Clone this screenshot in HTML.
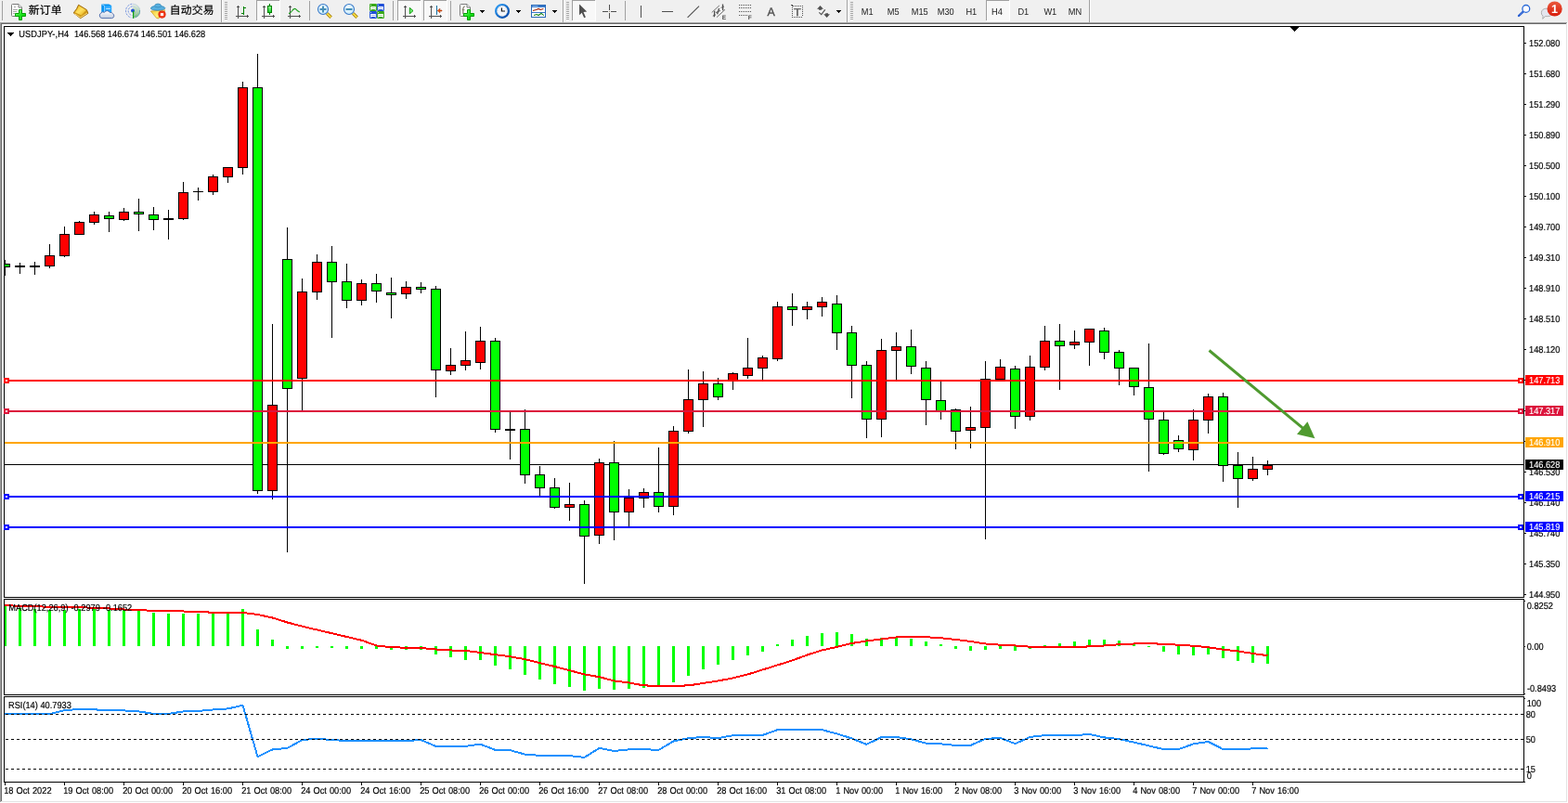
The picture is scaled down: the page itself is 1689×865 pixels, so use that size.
<!DOCTYPE html>
<html lang="zh"><head><meta charset="utf-8"><title>USDJPY-,H4</title>
<style>html,body{margin:0;padding:0;background:#fff;overflow:hidden}body{width:1689px;height:865px;position:relative}svg{position:absolute;left:0;top:0;display:block}text{font-family:"Liberation Sans","Noto Sans CJK SC",sans-serif;white-space:pre;text-rendering:geometricPrecision}.k{stroke:#000;stroke-width:.18px}.w{stroke:#fff;stroke-width:.12px;fill:#fff}.c{shape-rendering:crispEdges}</style>
</head><body>
<svg width="1689" height="865" viewBox="0 0 1689 865">
<rect x="0" y="0" width="1689" height="865" fill="#fff"/>
<g class="c">
<rect x="0" y="0" width="1689" height="24" fill="#f0f0f0"/>
<rect x="0" y="24" width="1689" height="1" fill="#a0a0a0"/>
<rect x="0" y="24" width="1" height="841" fill="#a0a0a0"/>
<rect x="1" y="25" width="1688" height="1" fill="#696969"/>
<rect x="1" y="25" width="1" height="839" fill="#696969"/>
<rect x="1688" y="24" width="1" height="841" fill="#fff"/>
<rect x="0" y="864" width="1689" height="1" fill="#fff"/>
<rect x="1687" y="25" width="1" height="839" fill="#e3e3e3"/>
<rect x="1" y="863" width="1687" height="1" fill="#e3e3e3"/>
</g>
<defs>
<linearGradient id="gp" x1="0" y1="0" x2="1" y2="1"><stop offset="0" stop-color="#8cff8c"/><stop offset="0.5" stop-color="#1ee61e"/><stop offset="1" stop-color="#00c800"/></linearGradient>
<linearGradient id="gold" x1="0" y1="0" x2="1" y2="1"><stop offset="0" stop-color="#f0c020"/><stop offset="0.5" stop-color="#ffe060"/><stop offset="1" stop-color="#e0a810"/></linearGradient>
<linearGradient id="badge" x1="0" y1="0" x2="0" y2="1"><stop offset="0" stop-color="#ea5a3c"/><stop offset="1" stop-color="#d81c0c"/></linearGradient>
<linearGradient id="blu" x1="0" y1="0" x2="1" y2="1"><stop offset="0" stop-color="#30a0f8"/><stop offset="1" stop-color="#0040a0"/></linearGradient>
<linearGradient id="cld" x1="0" y1="0" x2="0" y2="1"><stop offset="0" stop-color="#ffffff"/><stop offset="1" stop-color="#c0cce0"/></linearGradient>
<linearGradient id="grn" x1="0" y1="0" x2="0" y2="1"><stop offset="0" stop-color="#e0f0d8" stop-opacity="0.6"/><stop offset="1" stop-color="#38a838"/></linearGradient>
<linearGradient id="yel" x1="0" y1="0" x2="1" y2="1"><stop offset="0" stop-color="#f0c830"/><stop offset="0.6" stop-color="#fff080"/><stop offset="1" stop-color="#e8b020"/></linearGradient>
<linearGradient id="cnd" x1="0" y1="0" x2="0" y2="1"><stop offset="0" stop-color="#90f890"/><stop offset="1" stop-color="#20d030"/></linearGradient>
<radialGradient id="lens" cx="0.4" cy="0.35" r="0.7"><stop offset="0" stop-color="#f4fcff"/><stop offset="1" stop-color="#c4e8fc"/></radialGradient>
</defs>
<g class="c">
<rect x="2" y="1" width="1" height="21" fill="#a0a0a0"/>
<rect x="238" y="0" width="1" height="24" fill="#a0a0a0"/>
<rect x="239" y="0" width="1" height="24" fill="#fff"/>
<rect x="606" y="0" width="1" height="24" fill="#a0a0a0"/>
<rect x="607" y="0" width="1" height="24" fill="#fff"/>
<rect x="912" y="0" width="1" height="24" fill="#a0a0a0"/>
<rect x="913" y="0" width="1" height="24" fill="#fff"/>
<rect x="1173" y="0" width="1" height="24" fill="#a0a0a0"/>
<rect x="1174" y="0" width="1" height="24" fill="#fff"/>
<rect x="333" y="1" width="1" height="21" fill="#a0a0a0"/>
<rect x="423" y="1" width="1" height="21" fill="#a0a0a0"/>
<rect x="485" y="1" width="1" height="21" fill="#a0a0a0"/>
<rect x="673" y="1" width="1" height="21" fill="#a0a0a0"/>
<rect x="242" y="2" width="3" height="1" fill="#a0a0a0"/>
<rect x="242" y="3" width="3" height="1" fill="#fafafa"/>
<rect x="242" y="4" width="3" height="1" fill="#a0a0a0"/>
<rect x="242" y="5" width="3" height="1" fill="#fafafa"/>
<rect x="242" y="6" width="3" height="1" fill="#a0a0a0"/>
<rect x="242" y="7" width="3" height="1" fill="#fafafa"/>
<rect x="242" y="8" width="3" height="1" fill="#a0a0a0"/>
<rect x="242" y="9" width="3" height="1" fill="#fafafa"/>
<rect x="242" y="10" width="3" height="1" fill="#a0a0a0"/>
<rect x="242" y="11" width="3" height="1" fill="#fafafa"/>
<rect x="242" y="12" width="3" height="1" fill="#a0a0a0"/>
<rect x="242" y="13" width="3" height="1" fill="#fafafa"/>
<rect x="242" y="14" width="3" height="1" fill="#a0a0a0"/>
<rect x="242" y="15" width="3" height="1" fill="#fafafa"/>
<rect x="242" y="16" width="3" height="1" fill="#a0a0a0"/>
<rect x="242" y="17" width="3" height="1" fill="#fafafa"/>
<rect x="242" y="18" width="3" height="1" fill="#a0a0a0"/>
<rect x="242" y="19" width="3" height="1" fill="#fafafa"/>
<rect x="242" y="20" width="3" height="1" fill="#a0a0a0"/>
<rect x="242" y="21" width="3" height="1" fill="#fafafa"/>
<rect x="610" y="2" width="3" height="1" fill="#a0a0a0"/>
<rect x="610" y="3" width="3" height="1" fill="#fafafa"/>
<rect x="610" y="4" width="3" height="1" fill="#a0a0a0"/>
<rect x="610" y="5" width="3" height="1" fill="#fafafa"/>
<rect x="610" y="6" width="3" height="1" fill="#a0a0a0"/>
<rect x="610" y="7" width="3" height="1" fill="#fafafa"/>
<rect x="610" y="8" width="3" height="1" fill="#a0a0a0"/>
<rect x="610" y="9" width="3" height="1" fill="#fafafa"/>
<rect x="610" y="10" width="3" height="1" fill="#a0a0a0"/>
<rect x="610" y="11" width="3" height="1" fill="#fafafa"/>
<rect x="610" y="12" width="3" height="1" fill="#a0a0a0"/>
<rect x="610" y="13" width="3" height="1" fill="#fafafa"/>
<rect x="610" y="14" width="3" height="1" fill="#a0a0a0"/>
<rect x="610" y="15" width="3" height="1" fill="#fafafa"/>
<rect x="610" y="16" width="3" height="1" fill="#a0a0a0"/>
<rect x="610" y="17" width="3" height="1" fill="#fafafa"/>
<rect x="610" y="18" width="3" height="1" fill="#a0a0a0"/>
<rect x="610" y="19" width="3" height="1" fill="#fafafa"/>
<rect x="610" y="20" width="3" height="1" fill="#a0a0a0"/>
<rect x="610" y="21" width="3" height="1" fill="#fafafa"/>
<rect x="916" y="2" width="3" height="1" fill="#a0a0a0"/>
<rect x="916" y="3" width="3" height="1" fill="#fafafa"/>
<rect x="916" y="4" width="3" height="1" fill="#a0a0a0"/>
<rect x="916" y="5" width="3" height="1" fill="#fafafa"/>
<rect x="916" y="6" width="3" height="1" fill="#a0a0a0"/>
<rect x="916" y="7" width="3" height="1" fill="#fafafa"/>
<rect x="916" y="8" width="3" height="1" fill="#a0a0a0"/>
<rect x="916" y="9" width="3" height="1" fill="#fafafa"/>
<rect x="916" y="10" width="3" height="1" fill="#a0a0a0"/>
<rect x="916" y="11" width="3" height="1" fill="#fafafa"/>
<rect x="916" y="12" width="3" height="1" fill="#a0a0a0"/>
<rect x="916" y="13" width="3" height="1" fill="#fafafa"/>
<rect x="916" y="14" width="3" height="1" fill="#a0a0a0"/>
<rect x="916" y="15" width="3" height="1" fill="#fafafa"/>
<rect x="916" y="16" width="3" height="1" fill="#a0a0a0"/>
<rect x="916" y="17" width="3" height="1" fill="#fafafa"/>
<rect x="916" y="18" width="3" height="1" fill="#a0a0a0"/>
<rect x="916" y="19" width="3" height="1" fill="#fafafa"/>
<rect x="916" y="20" width="3" height="1" fill="#a0a0a0"/>
<rect x="916" y="21" width="3" height="1" fill="#fafafa"/>
<rect x="276" y="0" width="26" height="23" fill="#f8f8f8"/>
<rect x="276" y="0" width="25" height="1" fill="#a0a0a0"/>
<rect x="276" y="0" width="1" height="22" fill="#a0a0a0"/>
<rect x="301" y="1" width="1" height="22" fill="#fff"/>
<rect x="277" y="22" width="25" height="1" fill="#fff"/>
<rect x="428" y="0" width="26" height="23" fill="#f8f8f8"/>
<rect x="428" y="0" width="25" height="1" fill="#a0a0a0"/>
<rect x="428" y="0" width="1" height="22" fill="#a0a0a0"/>
<rect x="453" y="1" width="1" height="22" fill="#fff"/>
<rect x="429" y="22" width="25" height="1" fill="#fff"/>
<rect x="456" y="0" width="26" height="23" fill="#f8f8f8"/>
<rect x="456" y="0" width="25" height="1" fill="#a0a0a0"/>
<rect x="456" y="0" width="1" height="22" fill="#a0a0a0"/>
<rect x="481" y="1" width="1" height="22" fill="#fff"/>
<rect x="457" y="22" width="25" height="1" fill="#fff"/>
<rect x="616" y="0" width="26" height="23" fill="#f8f8f8"/>
<rect x="616" y="0" width="25" height="1" fill="#a0a0a0"/>
<rect x="616" y="0" width="1" height="22" fill="#a0a0a0"/>
<rect x="641" y="1" width="1" height="22" fill="#fff"/>
<rect x="617" y="22" width="25" height="1" fill="#fff"/>
<rect x="1062" y="0" width="26" height="23" fill="#f8f8f8"/>
<rect x="1062" y="0" width="25" height="1" fill="#a0a0a0"/>
<rect x="1062" y="0" width="1" height="22" fill="#a0a0a0"/>
<rect x="1087" y="1" width="1" height="22" fill="#fff"/>
<rect x="1063" y="22" width="25" height="1" fill="#fff"/>
</g>
<path d="M13.5 4.5 h6.5 l3.5 3.5 v8.5 q0 1 -1 1 h-9 q-1 0 -1 -1 v-11 q0 -1 1 -1 z" fill="#fff" stroke="#7a7a7a" stroke-width="1"/>
<path d="M20 4.5 v3.5 h3.5" fill="#f4f4f4" stroke="#7a7a7a" stroke-width="1"/>
<g class="c">
<rect x="15" y="7" width="2" height="1" fill="#a8a8a8"/>
<rect x="14" y="10" width="5" height="1" fill="#a8a8a8"/>
<rect x="14" y="12" width="4" height="1" fill="#a8a8a8"/>
<rect x="14" y="14" width="2" height="1" fill="#a8a8a8"/>
</g>
<path d="M20.5 10.5 h3 v4 h4 v3 h-4 v4 h-3 v-4 h-4 v-3 h4 z" fill="url(#gp)" stroke="#00a000" stroke-width="1"/>
<text x="30.8" y="15" font-size="11.8" letter-spacing="0.15" fill="#000" stroke="#000" stroke-width="0.2">新订单</text>
<path d="M84.6 5.2 Q83 9.6 79.2 13.9 L86.7 19.7 L94.9 14.3 L93.4 10.6 Z" fill="#d09818" stroke="#9c6808" stroke-width="0.9" stroke-linejoin="round"/>
<path d="M85 6.2 L92.8 10.9 L87.6 16.6 L80.8 13.2 Q83.6 10 85 6.2 Z" fill="url(#gold)"/>
<path d="M80.4 14.8 L86.8 18.8 L94 14" fill="none" stroke="#ffe488" stroke-width="0.9"/>
<path d="M109.3 4.6 h8 l2.8 1.4 v7.5 h-10.8 z" fill="#0090f0"/>
<path d="M112.4 6 h7.7 v7.5 h-7.7 z" fill="#28a8ff"/>
<path d="M109.3 4.6 l3.1 1.4 v7" fill="none" stroke="#c8e8ff" stroke-width="0.7"/>
<rect x="114.2" y="8.8" width="4.6" height="0.9" fill="#e8f6ff"/>
<path d="M109.8 19.6 A3 3 0 0 1 109 13.9 A2.5 2.5 0 0 1 112.4 13.4 A3.3 3.3 0 0 1 118.3 13.5 A2.5 2.5 0 0 1 121.5 14.8 A2.6 2.6 0 0 1 120.6 19.6 Z" fill="url(#cld)" stroke="#4868a8" stroke-width="0.9"/>
<path d="M143.2 11.6 L143.2 3.8 A7.9 7.9 0 0 1 143.2 19.6 Z" fill="url(#grn)" opacity="0.75"/>
<g fill="none">
<circle cx="143" cy="11.7" r="7.5" stroke="#b8c8e8" stroke-width="1" opacity="0.7"/>
<circle cx="143" cy="11.7" r="4.9" stroke="#b8c8e8" stroke-width="1" opacity="0.7"/>
<path d="M142 4.3 A7.5 7.5 0 0 0 139.6 18.4" stroke="#3c68d8" stroke-width="1" stroke-dasharray="1.6 1.8" opacity="0.6"/>
<path d="M142.4 6.9 A4.9 4.9 0 0 0 140.4 15.8" stroke="#3c68d8" stroke-width="1" stroke-dasharray="1.6 1.8" opacity="0.6"/>
<path d="M150.5 11 A7.5 7.5 0 0 1 146 18.6" stroke="#4890a0" stroke-width="1" opacity="0.7"/>
</g>
<circle cx="143" cy="11.6" r="2" fill="#2050d0"/><rect x="143" y="12" width="1.2" height="7.8" fill="#10a010"/>
<path d="M162.4 12 L177.6 10.8 L176 16 L170.4 19.9 L168.5 19.4 Z" fill="url(#yel)" stroke="#c89818" stroke-width="0.7"/>
<path d="M162.3 9 q0.5 -2 4 -2.4 q0.6 -2.6 3.8 -2.6 q3.2 0 3.8 2.6 q3.5 0.4 4.1 2.2 q-0.8 2 -7.9 2.4 q-7 -0.2 -7.8 -2.2 z" fill="#58b0e0" stroke="#2880b0" stroke-width="0.7"/>
<path d="M166.6 7.2 q3.5 1.6 7.2 -0.2" fill="none" stroke="#2880b0" stroke-width="0.6"/>
<circle cx="174.5" cy="15.6" r="4.1" fill="#e02408"/><circle cx="174.5" cy="15.6" r="3.4" fill="#f03818"/><rect x="172.9" y="14.1" width="3.2" height="3" fill="#fff"/>
<text x="182.8" y="15" font-size="11.8" letter-spacing="0.15" fill="#000" stroke="#000" stroke-width="0.2">自动交易</text>
<g class="c">
<rect x="256" y="6" width="1" height="14" fill="#505050"/>
<rect x="255" y="7" width="3" height="1" fill="#505050"/>
<rect x="254" y="17" width="14" height="1" fill="#505050"/>
<rect x="266" y="16" width="1" height="3" fill="#505050"/>
</g>
<g class="c">
<rect x="262" y="7" width="1" height="9" fill="#008000"/>
<rect x="263" y="8" width="2" height="1" fill="#008000"/>
<rect x="260" y="14" width="2" height="1" fill="#008000"/>
</g>
<g class="c">
<rect x="284" y="6" width="1" height="14" fill="#505050"/>
<rect x="283" y="7" width="3" height="1" fill="#505050"/>
<rect x="282" y="17" width="14" height="1" fill="#505050"/>
<rect x="294" y="16" width="1" height="3" fill="#505050"/>
</g>
<g class="c">
<rect x="290" y="4" width="1" height="12" fill="#008000"/>
<rect x="288" y="6" width="5" height="8" fill="#008000"/>
</g>
<rect x="289" y="7" width="3" height="6" fill="url(#cnd)"/>
<g class="c">
<rect x="312" y="6" width="1" height="14" fill="#505050"/>
<rect x="311" y="7" width="3" height="1" fill="#505050"/>
<rect x="310" y="17" width="14" height="1" fill="#505050"/>
<rect x="322" y="16" width="1" height="3" fill="#505050"/>
</g>
<path d="M311 14.6 Q313 14 315 11.2 Q317 8.6 318.6 9.8 Q320.6 12 322.8 13" fill="none" stroke="#20a020" stroke-width="1.1"/>
<path d="M352.2 14.4 L356.6 18.8" stroke="#a07808" stroke-width="3.4" stroke-linecap="butt"/>
<path d="M352.2 14.4 L356.4 18.6" stroke="#f8e040" stroke-width="1.8" stroke-linecap="butt"/>
<circle cx="348" cy="10" r="5.5" fill="url(#lens)" stroke="#3878c8" stroke-width="1.1"/>
<rect x="344.5" y="9" width="7" height="2" fill="#4890b8"/>
<rect x="347" y="6.5" width="2" height="7" fill="#4890b8"/>
<path d="M380.2 14.4 L384.6 18.8" stroke="#a07808" stroke-width="3.4" stroke-linecap="butt"/>
<path d="M380.2 14.4 L384.4 18.6" stroke="#f8e040" stroke-width="1.8" stroke-linecap="butt"/>
<circle cx="376" cy="10" r="5.5" fill="url(#lens)" stroke="#3878c8" stroke-width="1.1"/>
<rect x="372.5" y="9" width="7" height="2" fill="#4890b8"/>
<rect x="398.1" y="4.1" width="7.8" height="7.8" rx="0.8" fill="#38a818"/>
<rect x="399" y="5" width="0.9" height="0.9" fill="#e0f0e0"/>
<path d="M399.2 7 h5.6 v3.8 h-1 v-0.8 h-3.6 v0.8 h-1 z" fill="#fff"/>
<rect x="400.2" y="8" width="3.6" height="0.9" fill="#38a818" opacity="0.45"/>
<rect x="406.1" y="4.1" width="7.8" height="7.8" rx="0.8" fill="#2050d8"/>
<rect x="407" y="5" width="0.9" height="0.9" fill="#e0f0e0"/>
<path d="M407.2 7 h5.6 v3.8 h-1 v-0.8 h-3.6 v0.8 h-1 z" fill="#fff"/>
<rect x="408.2" y="8" width="3.6" height="0.9" fill="#2050d8" opacity="0.45"/>
<rect x="398.1" y="12.1" width="7.8" height="7.8" rx="0.8" fill="#2050d8"/>
<rect x="399" y="13" width="0.9" height="0.9" fill="#e0f0e0"/>
<path d="M399.2 15 h5.6 v3.8 h-1 v-0.8 h-3.6 v0.8 h-1 z" fill="#fff"/>
<rect x="400.2" y="16" width="3.6" height="0.9" fill="#2050d8" opacity="0.45"/>
<rect x="406.1" y="12.1" width="7.8" height="7.8" rx="0.8" fill="#38a818"/>
<rect x="407" y="13" width="0.9" height="0.9" fill="#e0f0e0"/>
<path d="M407.2 15 h5.6 v3.8 h-1 v-0.8 h-3.6 v0.8 h-1 z" fill="#fff"/>
<rect x="408.2" y="16" width="3.6" height="0.9" fill="#38a818" opacity="0.45"/>
<g class="c">
<rect x="436" y="6" width="1" height="14" fill="#505050"/>
<rect x="435" y="7" width="3" height="1" fill="#505050"/>
<rect x="434" y="17" width="14" height="1" fill="#505050"/>
<rect x="446" y="16" width="1" height="3" fill="#505050"/>
</g>
<path d="M441.3 8.3 L445 11.6 L441.3 14.9 Z" fill="#70f070" stroke="#009000" stroke-width="0.9" stroke-linejoin="round"/>
<g class="c">
<rect x="464" y="6" width="1" height="14" fill="#505050"/>
<rect x="463" y="7" width="3" height="1" fill="#505050"/>
<rect x="462" y="17" width="14" height="1" fill="#505050"/>
<rect x="474" y="16" width="1" height="3" fill="#505050"/>
</g>
<g class="c">
<rect x="470" y="6" width="1" height="10" fill="#1870a0"/>
</g>
<path d="M471.2 11.5 L474 9.2 L473.6 11 L476 11 V12 L473.6 12 L474 13.8 Z" fill="#f05808" stroke="#a02800" stroke-width="0.5"/>
<path d="M496.5 4.5 h6.5 l3.5 3.5 v8.5 q0 1 -1 1 h-9 q-1 0 -1 -1 v-11 q0 -1 1 -1 z" fill="#fff" stroke="#7a7a7a" stroke-width="1"/>
<path d="M503 4.5 v3.5 h3.5" fill="#f4f4f4" stroke="#7a7a7a" stroke-width="1"/>
<path d="M500.8 6.8 q-1.8 0.2 -1.9 2.2 v6" fill="none" stroke="#504830" stroke-width="0.9"/><path d="M497.5 10.6 h3" stroke="#807860" stroke-width="0.8"/>
<path d="M503.5 10.5 h3 v4 h4 v3 h-4 v4 h-3 v-4 h-4 v-3 h4 z" fill="url(#gp)" stroke="#00a000" stroke-width="1"/>
<g class="c">
<rect x="517" y="11" width="5" height="1" fill="#000"/>
<rect x="518" y="12" width="3" height="1" fill="#000"/>
<rect x="519" y="13" width="1" height="1" fill="#000"/>
</g>
<circle cx="541" cy="11.9" r="6.9" fill="#f4f6fa" stroke="url(#blu)" stroke-width="2.2"/>
<circle cx="541" cy="11.9" r="5.2" fill="none" stroke="#909090" stroke-width="0.7" stroke-dasharray="0.6 2.1"/>
<path d="M540.4 8.6 V12 H544" fill="none" stroke="#181818" stroke-width="1.2"/>
<g class="c">
<rect x="556" y="11" width="5" height="1" fill="#000"/>
<rect x="557" y="12" width="3" height="1" fill="#000"/>
<rect x="558" y="13" width="1" height="1" fill="#000"/>
</g>
<rect x="572.5" y="5.5" width="15" height="13" fill="#fff" stroke="#2868b8" stroke-width="1"/>
<rect x="573" y="6" width="14" height="2" fill="#3878c8"/><rect x="573.5" y="6.3" width="6" height="0.9" fill="#a8d0f8"/>
<rect x="573" y="13" width="14" height="1" fill="#3878c8"/>
<path d="M574 11.5 L577.6 10.5 L580.1 9.4 L582.2 10.5 L585.4 9.4" fill="none" stroke="#a02000" stroke-width="1.1"/>
<path d="M575 16.5 L578 15.5 L580.1 16.5 L583 14.4 L585.8 16.6" fill="none" stroke="#108010" stroke-width="1.1"/>
<g class="c">
<rect x="595" y="11" width="5" height="1" fill="#000"/>
<rect x="596" y="12" width="3" height="1" fill="#000"/>
<rect x="597" y="13" width="1" height="1" fill="#000"/>
</g>
<path d="M624 4.6 V16.2 L626.7 13.7 L629.2 19.3 L630.9 18.4 L628.5 13 L632.2 12.5 Z" fill="#505050"/>
<g class="c">
<rect x="656" y="5" width="1" height="6" fill="#505050"/>
<rect x="656" y="14" width="1" height="6" fill="#505050"/>
<rect x="649" y="12" width="6" height="1" fill="#505050"/>
<rect x="658" y="12" width="6" height="1" fill="#505050"/>
<rect x="656" y="12" width="1" height="1" fill="#908870"/>
<rect x="690" y="6" width="1" height="13" fill="#505050"/>
<rect x="713" y="12" width="12" height="1" fill="#505050"/>
</g>
<path d="M740.6 18.9 L753 6.7" stroke="#505050" stroke-width="1.1"/>
<g stroke="#505050" fill="none"><path d="M766.7 13.5 L774.9 5.9 M772.1 18.6 L781 10.3" stroke-width="0.8"/><path d="M769.4 18.2 L769.7 11.8 M772.6 15.2 L774.6 9 M778.7 11.2 L778.5 4.4" stroke-width="1.3"/><path d="M767.8 17.2 L771 15.8 M771 13.6 L776 11.4 M776.6 8.4 L780 7" stroke-width="0.9"/></g>
<text x="777.8" y="20.8" font-size="6.6" font-weight="bold" fill="#505050">E</text>
<g class="c">
<rect x="796" y="5" width="1" height="1" fill="#505050"/>
<rect x="798" y="5" width="1" height="1" fill="#505050"/>
<rect x="800" y="5" width="1" height="1" fill="#505050"/>
<rect x="802" y="5" width="1" height="1" fill="#505050"/>
<rect x="804" y="5" width="1" height="1" fill="#505050"/>
<rect x="806" y="5" width="1" height="1" fill="#505050"/>
<rect x="808" y="5" width="1" height="1" fill="#505050"/>
<rect x="796" y="8" width="1" height="1" fill="#505050"/>
<rect x="798" y="8" width="1" height="1" fill="#505050"/>
<rect x="800" y="8" width="1" height="1" fill="#505050"/>
<rect x="802" y="8" width="1" height="1" fill="#505050"/>
<rect x="804" y="8" width="1" height="1" fill="#505050"/>
<rect x="806" y="8" width="1" height="1" fill="#505050"/>
<rect x="808" y="8" width="1" height="1" fill="#505050"/>
<rect x="796" y="12" width="1" height="1" fill="#505050"/>
<rect x="798" y="12" width="1" height="1" fill="#505050"/>
<rect x="800" y="12" width="1" height="1" fill="#505050"/>
<rect x="802" y="12" width="1" height="1" fill="#505050"/>
<rect x="804" y="12" width="1" height="1" fill="#505050"/>
<rect x="806" y="12" width="1" height="1" fill="#505050"/>
<rect x="808" y="12" width="1" height="1" fill="#505050"/>
<rect x="796" y="16" width="1" height="1" fill="#505050"/>
<rect x="798" y="16" width="1" height="1" fill="#505050"/>
<rect x="800" y="16" width="1" height="1" fill="#505050"/>
<rect x="802" y="16" width="1" height="1" fill="#505050"/>
<rect x="804" y="16" width="1" height="1" fill="#505050"/>
</g>
<text x="805.7" y="20.8" font-size="6.6" font-weight="bold" fill="#505050">F</text>
<text x="826.5" y="16.9" font-size="12.4" fill="#505050" stroke="#505050" stroke-width="0.35">A</text>
<g class="c">
<rect x="856" y="6" width="1" height="1" fill="#505050"/>
<rect x="858" y="6" width="1" height="1" fill="#505050"/>
<rect x="860" y="6" width="1" height="1" fill="#505050"/>
<rect x="862" y="6" width="1" height="1" fill="#505050"/>
<rect x="864" y="6" width="1" height="1" fill="#505050"/>
<rect x="853" y="18" width="1" height="1" fill="#505050"/>
<rect x="855" y="18" width="1" height="1" fill="#505050"/>
<rect x="857" y="18" width="1" height="1" fill="#505050"/>
<rect x="859" y="18" width="1" height="1" fill="#505050"/>
<rect x="861" y="18" width="1" height="1" fill="#505050"/>
<rect x="863" y="18" width="1" height="1" fill="#505050"/>
<rect x="853" y="8" width="1" height="1" fill="#505050"/>
<rect x="853" y="10" width="1" height="1" fill="#505050"/>
<rect x="853" y="12" width="1" height="1" fill="#505050"/>
<rect x="853" y="14" width="1" height="1" fill="#505050"/>
<rect x="853" y="16" width="1" height="1" fill="#505050"/>
<rect x="864" y="6" width="1" height="1" fill="#505050"/>
<rect x="864" y="8" width="1" height="1" fill="#505050"/>
<rect x="864" y="10" width="1" height="1" fill="#505050"/>
<rect x="864" y="12" width="1" height="1" fill="#505050"/>
<rect x="864" y="14" width="1" height="1" fill="#505050"/>
<rect x="864" y="16" width="1" height="1" fill="#505050"/>
<rect x="852" y="5" width="2" height="1" fill="#505050"/>
<rect x="853" y="6" width="2" height="1" fill="#505050"/>
</g>
<text transform="translate(854.9 17) scale(1.12 1)" font-size="11.4" fill="#505050" stroke="#505050" stroke-width="0.3">T</text>
<path d="M880 9.8 L883.5 6 L887 9.8 H885 V10.8 H882 V9.8 Z" fill="#505050"/><path d="M887.2 15.2 H889.2 V14.2 H892 V15.2 H894 L890.6 18.9 Z" fill="#505050"/><path d="M882.3 13.4 L884.7 15.6 L888.8 10.4" fill="none" stroke="#505050" stroke-width="1.1"/>
<g class="c">
<rect x="901" y="11" width="5" height="1" fill="#000"/>
<rect x="902" y="12" width="3" height="1" fill="#000"/>
<rect x="903" y="13" width="1" height="1" fill="#000"/>
</g>
<text transform="translate(927.7 16) scale(0.907 1)" font-size="10.2" fill="#222">M1</text>
<text transform="translate(955.7 16) scale(0.907 1)" font-size="10.2" fill="#222">M5</text>
<text transform="translate(981.7 16) scale(0.907 1)" font-size="10.2" fill="#222">M15</text>
<text transform="translate(1009.7 16) scale(0.907 1)" font-size="10.2" fill="#222">M30</text>
<text transform="translate(1040.4 16) scale(0.907 1)" font-size="10.2" fill="#222">H1</text>
<text transform="translate(1068 16) scale(0.907 1)" font-size="10.2" fill="#222">H4</text>
<text transform="translate(1096.4 16) scale(0.907 1)" font-size="10.2" fill="#222">D1</text>
<text transform="translate(1124.4 16) scale(0.907 1)" font-size="10.2" fill="#222">W1</text>
<text transform="translate(1150.7 16) scale(0.907 1)" font-size="10.2" fill="#222">MN</text>
<path d="M1640.9 12.4 L1636 17" stroke="#2058d0" stroke-width="2.3" stroke-linecap="round"/>
<path d="M1640 13.2 L1637 16" stroke="#a8c0f0" stroke-width="0.7" stroke-dasharray="0.8 0.8"/>
<circle cx="1643.8" cy="9.4" r="3.9" fill="#fcfcff" stroke="#2868d8" stroke-width="1.3"/>
<path d="M1660.4 13.4 a5 4.2 0 0 1 5 -4.2 h2 a5 4.2 0 0 1 0 8.4 h-3 l-2.6 2.8 l0.2 -3.2 a5 4.2 0 0 1 -1.6 -3.8 z" fill="#e4e6ee" stroke="#a0a0a0" stroke-width="0.8"/>
<circle cx="1674.6" cy="9.5" r="8.1" fill="url(#badge)"/>
<text x="1674.5" y="14.2" font-size="12.6" font-weight="bold" text-anchor="middle" fill="#fff">1</text>
<g class="c">
<rect x="4" y="28" width="1638" height="1" fill="#000"/>
<rect x="4" y="28" width="1" height="815" fill="#000"/>
<rect x="1641" y="28" width="1" height="815" fill="#000"/>
<rect x="4" y="643" width="1638" height="1" fill="#000"/>
<rect x="4" y="645" width="1638" height="1" fill="#000"/>
<rect x="4" y="748" width="1638" height="1" fill="#000"/>
<rect x="4" y="750" width="1638" height="1" fill="#000"/>
<rect x="4" y="842" width="1638" height="1" fill="#000"/>
<rect x="4" y="644" width="1638" height="1" fill="#fff"/>
<rect x="4" y="749" width="1638" height="1" fill="#fff"/>
<rect x="5" y="500" width="1636" height="1" fill="#000"/>
</g>
<g class="c" stroke="#000" stroke-width="1">
<rect x="5" y="280" width="1" height="17" fill="#000" stroke="none"/>
<rect x="5" y="284" width="6" height="4" fill="#000" stroke="none"/>
<rect x="5" y="285" width="5" height="2" fill="#0f0" stroke="none"/>
<rect x="21" y="283" width="1" height="12" fill="#000" stroke="none"/>
<rect x="16" y="286" width="11" height="2" fill="#000" stroke="none"/>
<rect x="37" y="282" width="1" height="14" fill="#000" stroke="none"/>
<rect x="32" y="286" width="11" height="2" fill="#000" stroke="none"/>
<rect x="53" y="263" width="1" height="26" fill="#000" stroke="none"/>
<rect x="48" y="275" width="11" height="12" fill="#000" stroke="none"/>
<rect x="49" y="276" width="9" height="10" fill="#f00" stroke="none"/>
<rect x="69" y="244" width="1" height="33" fill="#000" stroke="none"/>
<rect x="64" y="252" width="11" height="24" fill="#000" stroke="none"/>
<rect x="65" y="253" width="9" height="22" fill="#f00" stroke="none"/>
<rect x="85" y="238" width="1" height="15" fill="#000" stroke="none"/>
<rect x="80" y="239" width="11" height="14" fill="#000" stroke="none"/>
<rect x="81" y="240" width="9" height="12" fill="#f00" stroke="none"/>
<rect x="101" y="228" width="1" height="14" fill="#000" stroke="none"/>
<rect x="96" y="231" width="11" height="9" fill="#000" stroke="none"/>
<rect x="97" y="232" width="9" height="7" fill="#f00" stroke="none"/>
<rect x="117" y="228" width="1" height="22" fill="#000" stroke="none"/>
<rect x="112" y="232" width="11" height="4" fill="#000" stroke="none"/>
<rect x="113" y="233" width="9" height="2" fill="#0f0" stroke="none"/>
<rect x="133" y="224" width="1" height="14" fill="#000" stroke="none"/>
<rect x="128" y="228" width="11" height="9" fill="#000" stroke="none"/>
<rect x="129" y="229" width="9" height="7" fill="#f00" stroke="none"/>
<rect x="149" y="214" width="1" height="35" fill="#000" stroke="none"/>
<rect x="144" y="228" width="11" height="3" fill="#000" stroke="none"/>
<rect x="145" y="229" width="9" height="1" fill="#0f0" stroke="none"/>
<rect x="165" y="223" width="1" height="25" fill="#000" stroke="none"/>
<rect x="160" y="231" width="11" height="6" fill="#000" stroke="none"/>
<rect x="161" y="232" width="9" height="4" fill="#0f0" stroke="none"/>
<rect x="181" y="226" width="1" height="32" fill="#000" stroke="none"/>
<rect x="176" y="235" width="11" height="2" fill="#000" stroke="none"/>
<rect x="197" y="196" width="1" height="41" fill="#000" stroke="none"/>
<rect x="192" y="207" width="11" height="29" fill="#000" stroke="none"/>
<rect x="193" y="208" width="9" height="27" fill="#f00" stroke="none"/>
<rect x="213" y="202" width="1" height="14" fill="#000" stroke="none"/>
<rect x="208" y="206" width="11" height="1" fill="#000" stroke="none"/>
<rect x="229" y="188" width="1" height="22" fill="#000" stroke="none"/>
<rect x="224" y="190" width="11" height="17" fill="#000" stroke="none"/>
<rect x="225" y="191" width="9" height="15" fill="#f00" stroke="none"/>
<rect x="245" y="180" width="1" height="17" fill="#000" stroke="none"/>
<rect x="240" y="180" width="11" height="11" fill="#000" stroke="none"/>
<rect x="241" y="181" width="9" height="9" fill="#f00" stroke="none"/>
<rect x="261" y="88" width="1" height="100" fill="#000" stroke="none"/>
<rect x="256" y="94" width="11" height="87" fill="#000" stroke="none"/>
<rect x="257" y="95" width="9" height="85" fill="#f00" stroke="none"/>
<rect x="277" y="58" width="1" height="474" fill="#000" stroke="none"/>
<rect x="272" y="94" width="11" height="435" fill="#000" stroke="none"/>
<rect x="273" y="95" width="9" height="433" fill="#0f0" stroke="none"/>
<rect x="293" y="349" width="1" height="189" fill="#000" stroke="none"/>
<rect x="288" y="436" width="11" height="93" fill="#000" stroke="none"/>
<rect x="289" y="437" width="9" height="91" fill="#f00" stroke="none"/>
<rect x="309" y="245" width="1" height="350" fill="#000" stroke="none"/>
<rect x="304" y="279" width="11" height="140" fill="#000" stroke="none"/>
<rect x="305" y="280" width="9" height="138" fill="#0f0" stroke="none"/>
<rect x="325" y="300" width="1" height="142" fill="#000" stroke="none"/>
<rect x="320" y="314" width="11" height="94" fill="#000" stroke="none"/>
<rect x="321" y="315" width="9" height="92" fill="#f00" stroke="none"/>
<rect x="341" y="274" width="1" height="49" fill="#000" stroke="none"/>
<rect x="336" y="282" width="11" height="33" fill="#000" stroke="none"/>
<rect x="337" y="283" width="9" height="31" fill="#f00" stroke="none"/>
<rect x="357" y="265" width="1" height="99" fill="#000" stroke="none"/>
<rect x="352" y="282" width="11" height="22" fill="#000" stroke="none"/>
<rect x="353" y="283" width="9" height="20" fill="#0f0" stroke="none"/>
<rect x="373" y="284" width="1" height="48" fill="#000" stroke="none"/>
<rect x="368" y="303" width="11" height="21" fill="#000" stroke="none"/>
<rect x="369" y="304" width="9" height="19" fill="#0f0" stroke="none"/>
<rect x="389" y="301" width="1" height="28" fill="#000" stroke="none"/>
<rect x="384" y="305" width="11" height="19" fill="#000" stroke="none"/>
<rect x="385" y="306" width="9" height="17" fill="#f00" stroke="none"/>
<rect x="405" y="295" width="1" height="31" fill="#000" stroke="none"/>
<rect x="400" y="305" width="11" height="9" fill="#000" stroke="none"/>
<rect x="401" y="306" width="9" height="7" fill="#0f0" stroke="none"/>
<rect x="421" y="299" width="1" height="44" fill="#000" stroke="none"/>
<rect x="416" y="315" width="11" height="3" fill="#000" stroke="none"/>
<rect x="417" y="316" width="9" height="1" fill="#0f0" stroke="none"/>
<rect x="437" y="303" width="1" height="19" fill="#000" stroke="none"/>
<rect x="432" y="309" width="11" height="8" fill="#000" stroke="none"/>
<rect x="433" y="310" width="9" height="6" fill="#f00" stroke="none"/>
<rect x="453" y="304" width="1" height="12" fill="#000" stroke="none"/>
<rect x="448" y="309" width="11" height="3" fill="#000" stroke="none"/>
<rect x="449" y="310" width="9" height="1" fill="#0f0" stroke="none"/>
<rect x="469" y="308" width="1" height="120" fill="#000" stroke="none"/>
<rect x="464" y="311" width="11" height="88" fill="#000" stroke="none"/>
<rect x="465" y="312" width="9" height="86" fill="#0f0" stroke="none"/>
<rect x="485" y="375" width="1" height="29" fill="#000" stroke="none"/>
<rect x="480" y="393" width="11" height="7" fill="#000" stroke="none"/>
<rect x="481" y="394" width="9" height="5" fill="#f00" stroke="none"/>
<rect x="501" y="357" width="1" height="42" fill="#000" stroke="none"/>
<rect x="496" y="388" width="11" height="6" fill="#000" stroke="none"/>
<rect x="497" y="389" width="9" height="4" fill="#f00" stroke="none"/>
<rect x="517" y="352" width="1" height="46" fill="#000" stroke="none"/>
<rect x="512" y="367" width="11" height="24" fill="#000" stroke="none"/>
<rect x="513" y="368" width="9" height="22" fill="#f00" stroke="none"/>
<rect x="533" y="364" width="1" height="102" fill="#000" stroke="none"/>
<rect x="528" y="367" width="11" height="96" fill="#000" stroke="none"/>
<rect x="529" y="368" width="9" height="94" fill="#0f0" stroke="none"/>
<rect x="549" y="444" width="1" height="51" fill="#000" stroke="none"/>
<rect x="544" y="462" width="11" height="2" fill="#000" stroke="none"/>
<rect x="565" y="441" width="1" height="80" fill="#000" stroke="none"/>
<rect x="560" y="462" width="11" height="50" fill="#000" stroke="none"/>
<rect x="561" y="463" width="9" height="48" fill="#0f0" stroke="none"/>
<rect x="581" y="502" width="1" height="32" fill="#000" stroke="none"/>
<rect x="576" y="511" width="11" height="15" fill="#000" stroke="none"/>
<rect x="577" y="512" width="9" height="13" fill="#0f0" stroke="none"/>
<rect x="597" y="515" width="1" height="33" fill="#000" stroke="none"/>
<rect x="592" y="525" width="11" height="22" fill="#000" stroke="none"/>
<rect x="593" y="526" width="9" height="20" fill="#0f0" stroke="none"/>
<rect x="613" y="520" width="1" height="41" fill="#000" stroke="none"/>
<rect x="608" y="543" width="11" height="4" fill="#000" stroke="none"/>
<rect x="609" y="544" width="9" height="2" fill="#f00" stroke="none"/>
<rect x="629" y="539" width="1" height="90" fill="#000" stroke="none"/>
<rect x="624" y="543" width="11" height="35" fill="#000" stroke="none"/>
<rect x="625" y="544" width="9" height="33" fill="#0f0" stroke="none"/>
<rect x="645" y="494" width="1" height="92" fill="#000" stroke="none"/>
<rect x="640" y="498" width="11" height="79" fill="#000" stroke="none"/>
<rect x="641" y="499" width="9" height="77" fill="#f00" stroke="none"/>
<rect x="661" y="475" width="1" height="107" fill="#000" stroke="none"/>
<rect x="656" y="498" width="11" height="54" fill="#000" stroke="none"/>
<rect x="657" y="499" width="9" height="52" fill="#0f0" stroke="none"/>
<rect x="677" y="527" width="1" height="40" fill="#000" stroke="none"/>
<rect x="672" y="536" width="11" height="16" fill="#000" stroke="none"/>
<rect x="673" y="537" width="9" height="14" fill="#f00" stroke="none"/>
<rect x="693" y="526" width="1" height="21" fill="#000" stroke="none"/>
<rect x="688" y="530" width="11" height="7" fill="#000" stroke="none"/>
<rect x="689" y="531" width="9" height="5" fill="#f00" stroke="none"/>
<rect x="709" y="482" width="1" height="70" fill="#000" stroke="none"/>
<rect x="704" y="530" width="11" height="16" fill="#000" stroke="none"/>
<rect x="705" y="531" width="9" height="14" fill="#0f0" stroke="none"/>
<rect x="725" y="459" width="1" height="96" fill="#000" stroke="none"/>
<rect x="720" y="464" width="11" height="82" fill="#000" stroke="none"/>
<rect x="721" y="465" width="9" height="80" fill="#f00" stroke="none"/>
<rect x="741" y="398" width="1" height="69" fill="#000" stroke="none"/>
<rect x="736" y="430" width="11" height="35" fill="#000" stroke="none"/>
<rect x="737" y="431" width="9" height="33" fill="#f00" stroke="none"/>
<rect x="757" y="400" width="1" height="60" fill="#000" stroke="none"/>
<rect x="752" y="413" width="11" height="18" fill="#000" stroke="none"/>
<rect x="753" y="414" width="9" height="16" fill="#f00" stroke="none"/>
<rect x="773" y="407" width="1" height="24" fill="#000" stroke="none"/>
<rect x="768" y="413" width="11" height="15" fill="#000" stroke="none"/>
<rect x="769" y="414" width="9" height="13" fill="#0f0" stroke="none"/>
<rect x="789" y="401" width="1" height="19" fill="#000" stroke="none"/>
<rect x="784" y="402" width="11" height="8" fill="#000" stroke="none"/>
<rect x="785" y="403" width="9" height="6" fill="#f00" stroke="none"/>
<rect x="805" y="364" width="1" height="44" fill="#000" stroke="none"/>
<rect x="800" y="396" width="11" height="9" fill="#000" stroke="none"/>
<rect x="801" y="397" width="9" height="7" fill="#f00" stroke="none"/>
<rect x="821" y="383" width="1" height="26" fill="#000" stroke="none"/>
<rect x="816" y="385" width="11" height="12" fill="#000" stroke="none"/>
<rect x="817" y="386" width="9" height="10" fill="#f00" stroke="none"/>
<rect x="837" y="325" width="1" height="64" fill="#000" stroke="none"/>
<rect x="832" y="330" width="11" height="57" fill="#000" stroke="none"/>
<rect x="833" y="331" width="9" height="55" fill="#f00" stroke="none"/>
<rect x="853" y="316" width="1" height="35" fill="#000" stroke="none"/>
<rect x="848" y="330" width="11" height="4" fill="#000" stroke="none"/>
<rect x="849" y="331" width="9" height="2" fill="#0f0" stroke="none"/>
<rect x="869" y="325" width="1" height="19" fill="#000" stroke="none"/>
<rect x="864" y="330" width="11" height="4" fill="#000" stroke="none"/>
<rect x="865" y="331" width="9" height="2" fill="#f00" stroke="none"/>
<rect x="885" y="320" width="1" height="21" fill="#000" stroke="none"/>
<rect x="880" y="325" width="11" height="6" fill="#000" stroke="none"/>
<rect x="881" y="326" width="9" height="4" fill="#f00" stroke="none"/>
<rect x="901" y="318" width="1" height="59" fill="#000" stroke="none"/>
<rect x="896" y="327" width="11" height="32" fill="#000" stroke="none"/>
<rect x="897" y="328" width="9" height="30" fill="#0f0" stroke="none"/>
<rect x="917" y="351" width="1" height="78" fill="#000" stroke="none"/>
<rect x="912" y="358" width="11" height="36" fill="#000" stroke="none"/>
<rect x="913" y="359" width="9" height="34" fill="#0f0" stroke="none"/>
<rect x="933" y="389" width="1" height="83" fill="#000" stroke="none"/>
<rect x="928" y="393" width="11" height="59" fill="#000" stroke="none"/>
<rect x="929" y="394" width="9" height="57" fill="#0f0" stroke="none"/>
<rect x="949" y="365" width="1" height="106" fill="#000" stroke="none"/>
<rect x="944" y="377" width="11" height="75" fill="#000" stroke="none"/>
<rect x="945" y="378" width="9" height="73" fill="#f00" stroke="none"/>
<rect x="965" y="358" width="1" height="51" fill="#000" stroke="none"/>
<rect x="960" y="373" width="11" height="5" fill="#000" stroke="none"/>
<rect x="961" y="374" width="9" height="3" fill="#f00" stroke="none"/>
<rect x="981" y="355" width="1" height="48" fill="#000" stroke="none"/>
<rect x="976" y="373" width="11" height="22" fill="#000" stroke="none"/>
<rect x="977" y="374" width="9" height="20" fill="#0f0" stroke="none"/>
<rect x="997" y="389" width="1" height="69" fill="#000" stroke="none"/>
<rect x="992" y="396" width="11" height="35" fill="#000" stroke="none"/>
<rect x="993" y="397" width="9" height="33" fill="#0f0" stroke="none"/>
<rect x="1013" y="411" width="1" height="41" fill="#000" stroke="none"/>
<rect x="1008" y="431" width="11" height="12" fill="#000" stroke="none"/>
<rect x="1009" y="432" width="9" height="10" fill="#0f0" stroke="none"/>
<rect x="1029" y="440" width="1" height="44" fill="#000" stroke="none"/>
<rect x="1024" y="441" width="11" height="24" fill="#000" stroke="none"/>
<rect x="1025" y="442" width="9" height="22" fill="#0f0" stroke="none"/>
<rect x="1045" y="438" width="1" height="45" fill="#000" stroke="none"/>
<rect x="1040" y="460" width="11" height="4" fill="#000" stroke="none"/>
<rect x="1041" y="461" width="9" height="2" fill="#f00" stroke="none"/>
<rect x="1061" y="389" width="1" height="192" fill="#000" stroke="none"/>
<rect x="1056" y="408" width="11" height="53" fill="#000" stroke="none"/>
<rect x="1057" y="409" width="9" height="51" fill="#f00" stroke="none"/>
<rect x="1077" y="387" width="1" height="22" fill="#000" stroke="none"/>
<rect x="1072" y="395" width="11" height="14" fill="#000" stroke="none"/>
<rect x="1073" y="396" width="9" height="12" fill="#f00" stroke="none"/>
<rect x="1093" y="394" width="1" height="68" fill="#000" stroke="none"/>
<rect x="1088" y="397" width="11" height="52" fill="#000" stroke="none"/>
<rect x="1089" y="398" width="9" height="50" fill="#0f0" stroke="none"/>
<rect x="1109" y="383" width="1" height="70" fill="#000" stroke="none"/>
<rect x="1104" y="395" width="11" height="54" fill="#000" stroke="none"/>
<rect x="1105" y="396" width="9" height="52" fill="#f00" stroke="none"/>
<rect x="1125" y="351" width="1" height="48" fill="#000" stroke="none"/>
<rect x="1120" y="367" width="11" height="29" fill="#000" stroke="none"/>
<rect x="1121" y="368" width="9" height="27" fill="#f00" stroke="none"/>
<rect x="1141" y="349" width="1" height="71" fill="#000" stroke="none"/>
<rect x="1136" y="367" width="11" height="6" fill="#000" stroke="none"/>
<rect x="1137" y="368" width="9" height="4" fill="#0f0" stroke="none"/>
<rect x="1157" y="356" width="1" height="20" fill="#000" stroke="none"/>
<rect x="1152" y="368" width="11" height="4" fill="#000" stroke="none"/>
<rect x="1153" y="369" width="9" height="2" fill="#f00" stroke="none"/>
<rect x="1173" y="354" width="1" height="40" fill="#000" stroke="none"/>
<rect x="1168" y="354" width="11" height="15" fill="#000" stroke="none"/>
<rect x="1169" y="355" width="9" height="13" fill="#f00" stroke="none"/>
<rect x="1189" y="353" width="1" height="34" fill="#000" stroke="none"/>
<rect x="1184" y="356" width="11" height="24" fill="#000" stroke="none"/>
<rect x="1185" y="357" width="9" height="22" fill="#0f0" stroke="none"/>
<rect x="1205" y="377" width="1" height="38" fill="#000" stroke="none"/>
<rect x="1200" y="379" width="11" height="18" fill="#000" stroke="none"/>
<rect x="1201" y="380" width="9" height="16" fill="#0f0" stroke="none"/>
<rect x="1221" y="396" width="1" height="30" fill="#000" stroke="none"/>
<rect x="1216" y="396" width="11" height="21" fill="#000" stroke="none"/>
<rect x="1217" y="397" width="9" height="19" fill="#0f0" stroke="none"/>
<rect x="1237" y="370" width="1" height="138" fill="#000" stroke="none"/>
<rect x="1232" y="417" width="11" height="35" fill="#000" stroke="none"/>
<rect x="1233" y="418" width="9" height="33" fill="#0f0" stroke="none"/>
<rect x="1253" y="444" width="1" height="46" fill="#000" stroke="none"/>
<rect x="1248" y="452" width="11" height="37" fill="#000" stroke="none"/>
<rect x="1249" y="453" width="9" height="35" fill="#0f0" stroke="none"/>
<rect x="1269" y="469" width="1" height="18" fill="#000" stroke="none"/>
<rect x="1264" y="474" width="11" height="10" fill="#000" stroke="none"/>
<rect x="1265" y="475" width="9" height="8" fill="#0f0" stroke="none"/>
<rect x="1285" y="441" width="1" height="55" fill="#000" stroke="none"/>
<rect x="1280" y="452" width="11" height="33" fill="#000" stroke="none"/>
<rect x="1281" y="453" width="9" height="31" fill="#f00" stroke="none"/>
<rect x="1301" y="424" width="1" height="43" fill="#000" stroke="none"/>
<rect x="1296" y="427" width="11" height="26" fill="#000" stroke="none"/>
<rect x="1297" y="428" width="9" height="24" fill="#f00" stroke="none"/>
<rect x="1317" y="423" width="1" height="96" fill="#000" stroke="none"/>
<rect x="1312" y="427" width="11" height="75" fill="#000" stroke="none"/>
<rect x="1313" y="428" width="9" height="73" fill="#0f0" stroke="none"/>
<rect x="1333" y="487" width="1" height="60" fill="#000" stroke="none"/>
<rect x="1328" y="501" width="11" height="15" fill="#000" stroke="none"/>
<rect x="1329" y="502" width="9" height="13" fill="#0f0" stroke="none"/>
<rect x="1349" y="492" width="1" height="26" fill="#000" stroke="none"/>
<rect x="1344" y="505" width="11" height="11" fill="#000" stroke="none"/>
<rect x="1345" y="506" width="9" height="9" fill="#f00" stroke="none"/>
<rect x="1365" y="496" width="1" height="16" fill="#000" stroke="none"/>
<rect x="1360" y="501" width="11" height="5" fill="#000" stroke="none"/>
<rect x="1361" y="502" width="9" height="3" fill="#f00" stroke="none"/>
</g>
<g class="c">
<rect x="5" y="409" width="1636" height="2" fill="#ff0000"/>
<rect x="4" y="407" width="6" height="6" fill="#ff0000"/>
<rect x="6" y="409" width="2" height="2" fill="#fff"/>
<rect x="1635" y="407" width="6" height="6" fill="#ff0000"/>
<rect x="1637" y="409" width="2" height="2" fill="#fff"/>
<rect x="5" y="442" width="1636" height="2" fill="#dc143c"/>
<rect x="4" y="440" width="6" height="6" fill="#dc143c"/>
<rect x="6" y="442" width="2" height="2" fill="#fff"/>
<rect x="1635" y="440" width="6" height="6" fill="#dc143c"/>
<rect x="1637" y="442" width="2" height="2" fill="#fff"/>
<rect x="5" y="476" width="1636" height="2" fill="#ffa500"/>
<rect x="5" y="534" width="1636" height="2" fill="#0000ff"/>
<rect x="4" y="532" width="6" height="6" fill="#0000ff"/>
<rect x="6" y="534" width="2" height="2" fill="#fff"/>
<rect x="1635" y="532" width="6" height="6" fill="#0000ff"/>
<rect x="1637" y="534" width="2" height="2" fill="#fff"/>
<rect x="5" y="567" width="1636" height="2" fill="#0000ff"/>
<rect x="4" y="565" width="6" height="6" fill="#0000ff"/>
<rect x="6" y="567" width="2" height="2" fill="#fff"/>
<rect x="1635" y="565" width="6" height="6" fill="#0000ff"/>
<rect x="1637" y="567" width="2" height="2" fill="#fff"/>
</g>
<g fill="#4f9a2f" stroke="none">
<path d="M1301.6 378.7 L1303.4 376.3 L1404.6 460.2 L1402.7 462.6 Z"/>
<path d="M1416.4 472.3 L1397 467.7 L1408.4 454.3 Z"/>
</g>
<g class="c">
<rect x="1390" y="29" width="9" height="1" fill="#000"/>
<rect x="1391" y="30" width="7" height="1" fill="#000"/>
<rect x="1392" y="31" width="5" height="1" fill="#000"/>
<rect x="1393" y="32" width="3" height="1" fill="#000"/>
<rect x="1394" y="33" width="1" height="1" fill="#000"/>
<rect x="8" y="35" width="7" height="1" fill="#000"/>
<rect x="9" y="36" width="5" height="1" fill="#000"/>
<rect x="10" y="37" width="3" height="1" fill="#000"/>
<rect x="11" y="38" width="1" height="1" fill="#000"/>
</g>
<text class="k" transform="translate(20.2 40) scale(0.907 1)" font-size="10.2" letter-spacing="0.1">USDJPY-,H4</text>
<text class="k" transform="translate(79.9 40) scale(0.907 1)" font-size="10.2">146.568 146.674 146.501 146.628</text>
<g class="c">
<rect x="1642" y="46" width="2" height="1" fill="#000"/>
<rect x="1642" y="79" width="2" height="1" fill="#000"/>
<rect x="1642" y="112" width="2" height="1" fill="#000"/>
<rect x="1642" y="145" width="2" height="1" fill="#000"/>
<rect x="1642" y="178" width="2" height="1" fill="#000"/>
<rect x="1642" y="211" width="2" height="1" fill="#000"/>
<rect x="1642" y="244" width="2" height="1" fill="#000"/>
<rect x="1642" y="277" width="2" height="1" fill="#000"/>
<rect x="1642" y="310" width="2" height="1" fill="#000"/>
<rect x="1642" y="343" width="2" height="1" fill="#000"/>
<rect x="1642" y="376" width="2" height="1" fill="#000"/>
<rect x="1642" y="409" width="2" height="1" fill="#000"/>
<rect x="1642" y="442" width="2" height="1" fill="#000"/>
<rect x="1642" y="475" width="2" height="1" fill="#000"/>
<rect x="1642" y="508" width="2" height="1" fill="#000"/>
<rect x="1642" y="541" width="2" height="1" fill="#000"/>
<rect x="1642" y="574" width="2" height="1" fill="#000"/>
<rect x="1642" y="607" width="2" height="1" fill="#000"/>
<rect x="1642" y="640" width="2" height="1" fill="#000"/>
</g>
<text class="k" transform="translate(1647 50) scale(0.907 1)" font-size="10.2">152.080</text>
<text class="k" transform="translate(1647 83) scale(0.907 1)" font-size="10.2">151.680</text>
<text class="k" transform="translate(1647 116) scale(0.907 1)" font-size="10.2">151.290</text>
<text class="k" transform="translate(1647 149) scale(0.907 1)" font-size="10.2">150.890</text>
<text class="k" transform="translate(1647 182) scale(0.907 1)" font-size="10.2">150.500</text>
<text class="k" transform="translate(1647 215) scale(0.907 1)" font-size="10.2">150.100</text>
<text class="k" transform="translate(1647 248) scale(0.907 1)" font-size="10.2">149.700</text>
<text class="k" transform="translate(1647 281) scale(0.907 1)" font-size="10.2">149.310</text>
<text class="k" transform="translate(1647 314) scale(0.907 1)" font-size="10.2">148.910</text>
<text class="k" transform="translate(1647 347) scale(0.907 1)" font-size="10.2">148.510</text>
<text class="k" transform="translate(1647 380) scale(0.907 1)" font-size="10.2">148.120</text>
<text class="k" transform="translate(1647 512) scale(0.907 1)" font-size="10.2">146.530</text>
<text class="k" transform="translate(1647 545) scale(0.907 1)" font-size="10.2">146.140</text>
<text class="k" transform="translate(1647 578) scale(0.907 1)" font-size="10.2">145.740</text>
<text class="k" transform="translate(1647 611) scale(0.907 1)" font-size="10.2">145.350</text>
<text class="k" transform="translate(1647 644) scale(0.907 1)" font-size="10.2">144.950</text>
<g class="c">
<rect x="1643" y="404" width="41" height="11" fill="#ff0000"/>
<rect x="1643" y="437" width="41" height="11" fill="#dc143c"/>
<rect x="1643" y="471" width="41" height="11" fill="#ffa500"/>
<rect x="1643" y="529" width="41" height="11" fill="#0000ff"/>
<rect x="1643" y="562" width="41" height="11" fill="#0000ff"/>
<rect x="1643" y="495" width="41" height="11" fill="#000000"/>
</g>
<text class="w" transform="translate(1647 413) scale(0.907 1)" font-size="10.2">147.713</text>
<text class="w" transform="translate(1647 446) scale(0.907 1)" font-size="10.2">147.317</text>
<text class="w" transform="translate(1647 480) scale(0.907 1)" font-size="10.2">146.910</text>
<text class="w" transform="translate(1647 538) scale(0.907 1)" font-size="10.2">146.215</text>
<text class="w" transform="translate(1647 571) scale(0.907 1)" font-size="10.2">145.819</text>
<text class="w" transform="translate(1647 504) scale(0.907 1)" font-size="10.2">146.628</text>
<g class="c">
<rect x="5" y="653" width="2" height="43" fill="#00ff00"/>
<rect x="20" y="655" width="3" height="41" fill="#00ff00"/>
<rect x="36" y="656" width="3" height="40" fill="#00ff00"/>
<rect x="52" y="657" width="3" height="39" fill="#00ff00"/>
<rect x="68" y="657" width="3" height="39" fill="#00ff00"/>
<rect x="84" y="656" width="3" height="40" fill="#00ff00"/>
<rect x="100" y="656" width="3" height="40" fill="#00ff00"/>
<rect x="116" y="657" width="3" height="39" fill="#00ff00"/>
<rect x="132" y="657" width="3" height="39" fill="#00ff00"/>
<rect x="148" y="658" width="3" height="38" fill="#00ff00"/>
<rect x="164" y="660" width="3" height="36" fill="#00ff00"/>
<rect x="180" y="661" width="3" height="35" fill="#00ff00"/>
<rect x="196" y="661" width="3" height="35" fill="#00ff00"/>
<rect x="212" y="661" width="3" height="35" fill="#00ff00"/>
<rect x="228" y="661" width="3" height="35" fill="#00ff00"/>
<rect x="244" y="660" width="3" height="36" fill="#00ff00"/>
<rect x="260" y="656" width="3" height="40" fill="#00ff00"/>
<rect x="276" y="678" width="3" height="18" fill="#00ff00"/>
<rect x="292" y="689" width="3" height="7" fill="#00ff00"/>
<rect x="308" y="696" width="3" height="3" fill="#00ff00"/>
<rect x="324" y="696" width="3" height="3" fill="#00ff00"/>
<rect x="340" y="696" width="3" height="2" fill="#00ff00"/>
<rect x="356" y="696" width="3" height="2" fill="#00ff00"/>
<rect x="372" y="696" width="3" height="3" fill="#00ff00"/>
<rect x="388" y="696" width="3" height="3" fill="#00ff00"/>
<rect x="404" y="696" width="3" height="3" fill="#00ff00"/>
<rect x="420" y="696" width="3" height="4" fill="#00ff00"/>
<rect x="436" y="696" width="3" height="4" fill="#00ff00"/>
<rect x="452" y="696" width="3" height="4" fill="#00ff00"/>
<rect x="468" y="696" width="3" height="9" fill="#00ff00"/>
<rect x="484" y="696" width="3" height="12" fill="#00ff00"/>
<rect x="500" y="696" width="3" height="15" fill="#00ff00"/>
<rect x="516" y="696" width="3" height="15" fill="#00ff00"/>
<rect x="532" y="696" width="3" height="21" fill="#00ff00"/>
<rect x="548" y="696" width="3" height="25" fill="#00ff00"/>
<rect x="564" y="696" width="3" height="31" fill="#00ff00"/>
<rect x="580" y="696" width="3" height="36" fill="#00ff00"/>
<rect x="596" y="696" width="3" height="41" fill="#00ff00"/>
<rect x="612" y="696" width="3" height="44" fill="#00ff00"/>
<rect x="628" y="696" width="3" height="48" fill="#00ff00"/>
<rect x="644" y="696" width="3" height="46" fill="#00ff00"/>
<rect x="660" y="696" width="3" height="47" fill="#00ff00"/>
<rect x="676" y="696" width="3" height="46" fill="#00ff00"/>
<rect x="692" y="696" width="3" height="45" fill="#00ff00"/>
<rect x="708" y="696" width="3" height="43" fill="#00ff00"/>
<rect x="724" y="696" width="3" height="39" fill="#00ff00"/>
<rect x="740" y="696" width="3" height="32" fill="#00ff00"/>
<rect x="756" y="696" width="3" height="25" fill="#00ff00"/>
<rect x="772" y="696" width="3" height="20" fill="#00ff00"/>
<rect x="788" y="696" width="3" height="15" fill="#00ff00"/>
<rect x="804" y="696" width="3" height="10" fill="#00ff00"/>
<rect x="820" y="696" width="3" height="6" fill="#00ff00"/>
<rect x="836" y="694" width="3" height="2" fill="#00ff00"/>
<rect x="852" y="689" width="3" height="7" fill="#00ff00"/>
<rect x="868" y="685" width="3" height="11" fill="#00ff00"/>
<rect x="884" y="682" width="3" height="14" fill="#00ff00"/>
<rect x="900" y="681" width="3" height="15" fill="#00ff00"/>
<rect x="916" y="683" width="3" height="13" fill="#00ff00"/>
<rect x="932" y="688" width="3" height="8" fill="#00ff00"/>
<rect x="948" y="687" width="3" height="9" fill="#00ff00"/>
<rect x="964" y="686" width="3" height="10" fill="#00ff00"/>
<rect x="980" y="688" width="3" height="8" fill="#00ff00"/>
<rect x="996" y="691" width="3" height="5" fill="#00ff00"/>
<rect x="1012" y="694" width="3" height="2" fill="#00ff00"/>
<rect x="1028" y="696" width="3" height="3" fill="#00ff00"/>
<rect x="1044" y="696" width="3" height="5" fill="#00ff00"/>
<rect x="1060" y="696" width="3" height="4" fill="#00ff00"/>
<rect x="1076" y="696" width="3" height="3" fill="#00ff00"/>
<rect x="1092" y="696" width="3" height="5" fill="#00ff00"/>
<rect x="1108" y="696" width="3" height="3" fill="#00ff00"/>
<rect x="1124" y="695" width="3" height="1" fill="#00ff00"/>
<rect x="1140" y="693" width="3" height="3" fill="#00ff00"/>
<rect x="1156" y="691" width="3" height="5" fill="#00ff00"/>
<rect x="1172" y="689" width="3" height="7" fill="#00ff00"/>
<rect x="1188" y="689" width="3" height="7" fill="#00ff00"/>
<rect x="1204" y="690" width="3" height="6" fill="#00ff00"/>
<rect x="1220" y="693" width="3" height="3" fill="#00ff00"/>
<rect x="1236" y="696" width="3" height="1" fill="#00ff00"/>
<rect x="1252" y="696" width="3" height="6" fill="#00ff00"/>
<rect x="1268" y="696" width="3" height="9" fill="#00ff00"/>
<rect x="1284" y="696" width="3" height="10" fill="#00ff00"/>
<rect x="1300" y="696" width="3" height="9" fill="#00ff00"/>
<rect x="1316" y="696" width="3" height="13" fill="#00ff00"/>
<rect x="1332" y="696" width="3" height="16" fill="#00ff00"/>
<rect x="1348" y="696" width="3" height="18" fill="#00ff00"/>
<rect x="1364" y="696" width="3" height="19" fill="#00ff00"/>
</g>
<polyline class="c" points="5,652.24 5.5,652.24 21.5,652.74 37.5,653.24 53.5,653.74 69.5,653.99 85.5,654.24 101.5,654.74 117.5,655.49 133.5,656.49 149.5,657.24 165.5,657.74 181.5,658.24 197.5,658.49 213.5,658.99 229.5,659.74 245.5,659.99 261.5,659.99 277.5,661.98 293.5,665.48 309.5,670.48 325.5,674.73 341.5,678.47 357.5,682.22 373.5,685.97 389.5,689.72 405.5,695.46 421.5,697.21 437.5,697.71 453.5,697.96 469.5,699.46 485.5,700.46 501.5,700.96 517.5,702.96 533.5,705.21 549.5,707.21 565.5,710.21 581.5,714.20 597.5,717.95 613.5,722.20 629.5,726.45 645.5,729.19 661.5,733.44 677.5,735.44 693.5,738.44 709.5,738.69 725.5,738.69 741.5,738.44 757.5,735.94 773.5,733.44 789.5,730.44 805.5,726.45 821.5,721.45 837.5,716.45 853.5,711.45 869.5,705.46 885.5,700.46 901.5,696.96 917.5,692.97 933.5,690.47 949.5,688.47 965.5,686.47 981.5,686.22 997.5,686.22 1013.5,687.22 1029.5,688.97 1045.5,690.97 1061.5,693.47 1077.5,694.71 1093.5,695.46 1109.5,696.71 1125.5,696.71 1141.5,696.71 1157.5,696.71 1173.5,696.46 1189.5,695.46 1205.5,694.22 1221.5,693.47 1237.5,693.22 1253.5,693.72 1269.5,694.71 1285.5,695.71 1301.5,697.21 1317.5,699.71 1333.5,701.46 1349.5,703.96 1365.5,706.21" fill="none" stroke="#ff0000" stroke-width="2" stroke-linejoin="round"/>
<text class="k" transform="translate(9.3 658) scale(0.907 1)" font-size="10.2" word-spacing="0.5">MACD(12,26,9) -0.2979 -0.1652</text>
<text class="k" transform="translate(1644.7 656) scale(0.907 1)" font-size="10.2">0.8252</text>
<text class="k" transform="translate(1644.7 700) scale(0.907 1)" font-size="10.2">0.00</text>
<text class="k" transform="translate(1644.9 745) scale(0.907 1)" font-size="10.2">-0.8493</text>
<g class="c">
<rect x="1642" y="647" width="1" height="1" fill="#000"/>
<rect x="1642" y="696" width="1" height="1" fill="#000"/>
<rect x="1642" y="747" width="1" height="1" fill="#000"/>
<rect x="1642" y="752" width="1" height="1" fill="#000"/>
<rect x="1642" y="842" width="1" height="1" fill="#000"/>
</g>
<polyline class="c" points="5,769.17 5.5,769.17 21.5,769.17 37.5,769.17 53.5,769.17 69.5,765.17 85.5,763.92 101.5,764.42 117.5,764.92 133.5,765.42 149.5,766.42 165.5,768.92 181.5,768.92 197.5,766.42 213.5,765.92 229.5,764.42 245.5,763.42 261.5,759.68 277.5,815.14 293.5,807.40 309.5,805.90 325.5,797.15 341.5,795.65 357.5,797.15 373.5,797.90 389.5,797.90 405.5,797.90 421.5,798.15 437.5,797.90 453.5,797.15 469.5,803.90 485.5,803.90 501.5,803.90 517.5,801.65 533.5,807.90 549.5,808.15 565.5,812.64 581.5,813.89 597.5,813.89 613.5,814.14 629.5,815.89 645.5,805.90 661.5,808.90 677.5,807.40 693.5,807.15 709.5,807.90 725.5,798.40 741.5,795.15 757.5,793.91 773.5,795.15 789.5,792.16 805.5,792.16 821.5,791.91 837.5,786.16 853.5,786.16 869.5,786.16 885.5,786.16 901.5,790.41 917.5,795.40 933.5,801.90 949.5,793.91 965.5,793.91 981.5,796.40 997.5,800.65 1013.5,801.40 1029.5,802.90 1045.5,802.90 1061.5,795.90 1077.5,794.90 1093.5,801.15 1109.5,793.91 1125.5,792.16 1141.5,792.16 1157.5,792.16 1173.5,790.91 1189.5,794.40 1205.5,796.15 1221.5,799.65 1237.5,803.40 1253.5,807.15 1269.5,807.15 1285.5,801.40 1301.5,798.90 1317.5,807.15 1333.5,807.15 1349.5,806.40 1365.5,805.90" fill="none" stroke="#1e90ff" stroke-width="2" stroke-linejoin="round"/>
<g class="c">
<line x1="6" y1="769.5" x2="1641" y2="769.5" stroke="#000" stroke-width="1" stroke-dasharray="3 3"/>
<line x1="6" y1="796.5" x2="1641" y2="796.5" stroke="#000" stroke-width="1" stroke-dasharray="3 3"/>
<line x1="6" y1="828.5" x2="1641" y2="828.5" stroke="#000" stroke-width="1" stroke-dasharray="3 3"/>
</g>
<text class="k" transform="translate(9 763) scale(0.907 1)" font-size="10.2">RSI(14) 40.7933</text>
<text class="k" transform="translate(1644.7 761) scale(0.907 1)" font-size="10.2">100</text>
<text class="k" transform="translate(1643.7 773) scale(0.907 1)" font-size="10.2">80</text>
<text class="k" transform="translate(1643.7 800) scale(0.907 1)" font-size="10.2">50</text>
<text class="k" transform="translate(1643.7 832) scale(0.907 1)" font-size="10.2">15</text>
<text class="k" transform="translate(1644.7 838.6) scale(0.907 1)" font-size="10.2">0</text>
<g class="c">
<rect x="5" y="843" width="1" height="3" fill="#000"/>
<rect x="69" y="843" width="1" height="3" fill="#000"/>
<rect x="133" y="843" width="1" height="3" fill="#000"/>
<rect x="197" y="843" width="1" height="3" fill="#000"/>
<rect x="261" y="843" width="1" height="3" fill="#000"/>
<rect x="325" y="843" width="1" height="3" fill="#000"/>
<rect x="389" y="843" width="1" height="3" fill="#000"/>
<rect x="453" y="843" width="1" height="3" fill="#000"/>
<rect x="517" y="843" width="1" height="3" fill="#000"/>
<rect x="581" y="843" width="1" height="3" fill="#000"/>
<rect x="645" y="843" width="1" height="3" fill="#000"/>
<rect x="709" y="843" width="1" height="3" fill="#000"/>
<rect x="773" y="843" width="1" height="3" fill="#000"/>
<rect x="837" y="843" width="1" height="3" fill="#000"/>
<rect x="901" y="843" width="1" height="3" fill="#000"/>
<rect x="965" y="843" width="1" height="3" fill="#000"/>
<rect x="1029" y="843" width="1" height="3" fill="#000"/>
<rect x="1093" y="843" width="1" height="3" fill="#000"/>
<rect x="1157" y="843" width="1" height="3" fill="#000"/>
<rect x="1221" y="843" width="1" height="3" fill="#000"/>
<rect x="1285" y="843" width="1" height="3" fill="#000"/>
<rect x="1349" y="843" width="1" height="3" fill="#000"/>
</g>
<text class="k" transform="translate(4.2 855) scale(0.907 1)" font-size="10.2" word-spacing="0.55">18 Oct 2022</text>
<text class="k" transform="translate(68.2 855) scale(0.907 1)" font-size="10.2" word-spacing="0.55">19 Oct 08:00</text>
<text class="k" transform="translate(132.2 855) scale(0.907 1)" font-size="10.2" word-spacing="0.55">20 Oct 00:00</text>
<text class="k" transform="translate(196.2 855) scale(0.907 1)" font-size="10.2" word-spacing="0.55">20 Oct 16:00</text>
<text class="k" transform="translate(260.2 855) scale(0.907 1)" font-size="10.2" word-spacing="0.55">21 Oct 08:00</text>
<text class="k" transform="translate(324.2 855) scale(0.907 1)" font-size="10.2" word-spacing="0.55">24 Oct 00:00</text>
<text class="k" transform="translate(388.2 855) scale(0.907 1)" font-size="10.2" word-spacing="0.55">24 Oct 16:00</text>
<text class="k" transform="translate(452.2 855) scale(0.907 1)" font-size="10.2" word-spacing="0.55">25 Oct 08:00</text>
<text class="k" transform="translate(516.2 855) scale(0.907 1)" font-size="10.2" word-spacing="0.55">26 Oct 00:00</text>
<text class="k" transform="translate(580.2 855) scale(0.907 1)" font-size="10.2" word-spacing="0.55">26 Oct 16:00</text>
<text class="k" transform="translate(644.2 855) scale(0.907 1)" font-size="10.2" word-spacing="0.55">27 Oct 08:00</text>
<text class="k" transform="translate(708.2 855) scale(0.907 1)" font-size="10.2" word-spacing="0.55">28 Oct 00:00</text>
<text class="k" transform="translate(772.2 855) scale(0.907 1)" font-size="10.2" word-spacing="0.55">28 Oct 16:00</text>
<text class="k" transform="translate(836.2 855) scale(0.907 1)" font-size="10.2" word-spacing="0.55">31 Oct 08:00</text>
<text class="k" transform="translate(900.2 855) scale(0.907 1)" font-size="10.2" word-spacing="0.55">1 Nov 00:00</text>
<text class="k" transform="translate(964.2 855) scale(0.907 1)" font-size="10.2" word-spacing="0.55">1 Nov 16:00</text>
<text class="k" transform="translate(1028.2 855) scale(0.907 1)" font-size="10.2" word-spacing="0.55">2 Nov 08:00</text>
<text class="k" transform="translate(1092.2 855) scale(0.907 1)" font-size="10.2" word-spacing="0.55">3 Nov 00:00</text>
<text class="k" transform="translate(1156.2 855) scale(0.907 1)" font-size="10.2" word-spacing="0.55">3 Nov 16:00</text>
<text class="k" transform="translate(1220.2 855) scale(0.907 1)" font-size="10.2" word-spacing="0.55">4 Nov 08:00</text>
<text class="k" transform="translate(1284.2 855) scale(0.907 1)" font-size="10.2" word-spacing="0.55">7 Nov 00:00</text>
<text class="k" transform="translate(1348.2 855) scale(0.907 1)" font-size="10.2" word-spacing="0.55">7 Nov 16:00</text>
</svg>
</body></html>
